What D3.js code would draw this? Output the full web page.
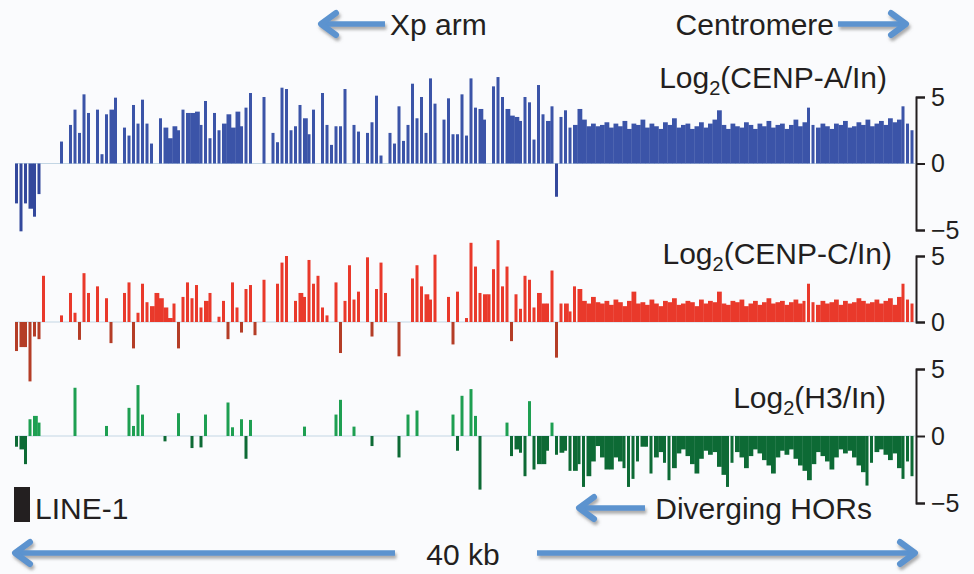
<!DOCTYPE html>
<html>
<head>
<meta charset="utf-8">
<script src="https://cdn.jsdelivr.net/npm/d3@7"></script>
<style>
  html, body { margin: 0; padding: 0; background: #fff; }
  svg text { font-family: "Liberation Sans", Arial, Helvetica, sans-serif; fill: #231f20; }
</style>
</head>
<body>
<div id="chart"></div>
<script>
(function () {

    // 40 kb window, 0.2 kb bins (200 bins per track), log2 ratios
    const regionKb = [0, 40];
    const binKb = 0.2;

    const cenpA = [
        -3.0, -5.1, -3.0, -3.4, -4.0, -2.3, 0, 0, 0, 0,
        1.65, 0, 2.9, 4.05, 2.3, 5.2, 3.8, 0, 4.05, 0.7,
        3.7, 4.05, 4.95, 0, 2.7, 2.1, 4.4, 3.0, 4.8, 3.0,
        1.5, 0, 3.4, 2.7, 1.9, 2.8, 2.5, 4.05, 3.8, 3.8,
        3.9, 2.9, 4.7, 1.9, 3.8, 2.5, 3.0, 3.7, 2.7, 3.9,
        2.8, 4.2, 5.3, 0, 0, 5.0, 0, 2.3, 1.6, 5.7,
        5.6, 2.5, 2.8, 4.4, 3.4, 2.2, 4.05, 0, 5.3, 2.9,
        1.4, 2.8, 2.8, 5.6, 0, 2.9, 2.4, 0, 2.3, 3.1,
        5.1, 0.6, 0, 2.3, 1.5, 4.3, 1.7, 2.9, 6.0, 3.4,
        5.0, 2.3, 6.4, 4.5, 0, 3.3, 4.9, 2.2, 2.2, 5.2,
        2.1, 6.4, 4.2, 4.1, 3.3, 0, 5.8, 6.5, 5.0, 4.1,
        3.6, 3.5, 3.2, 5.0, 4.6, 1.8, 5.9, 3.7, 3.2, 4.3,
        -2.5, 3.5, 4.0, 2.7, 2.9, 4.1, 3.3, 2.8, 3.0, 2.8,
        2.9, 3.1, 2.7, 3.0, 2.8, 3.2, 2.6, 3.0, 2.9, 3.3,
        2.7, 3.0, 2.8, 2.6, 3.1, 2.9, 3.4, 2.7, 2.9, 3.0,
        2.6, 2.8, 3.1, 2.7, 3.0, 3.3, 4.0, 2.9, 2.6, 3.0,
        2.8, 2.7, 3.1, 2.9, 2.6, 3.0, 2.8, 3.2, 2.7, 2.9,
        3.0, 2.6, 2.9, 3.3, 2.8, 3.1, 4.2, 2.9, 2.7, 3.0,
        2.8, 2.6, 3.0, 2.9, 3.2, 2.7, 2.8, 3.1, 2.9, 3.3,
        2.8, 3.0, 3.2, 2.9, 3.4, 3.1, 3.3, 4.3, 3.0, 2.5
    ];

    const cenpC = [
        -2.2, -1.9, -1.9, -4.5, -1.1, -1.3, 3.5, 0, 0, 0,
        0.5, 0, 2.2, 0.7, -1.35, 3.7, 2.2, 0, 2.7, 0,
        1.8, -1.6, 0, 0, 2.2, 3.0, -2.0, 0.7, 2.9, 1.5,
        1.2, 2.2, 1.8, 1.1, 0.3, 1.4, -2.0, 1.9, 3.0, 1.8,
        2.8, 1.1, 1.6, 2.2, 0, 0.4, 1.6, -1.3, 3.0, 1.1,
        -0.8, 2.5, 2.8, -1.0, 0, 3.2, 0, 0, 2.9, 4.5,
        5.0, 0, 1.6, 2.2, 1.9, 4.7, 2.9, 3.5, 1.1, 0.5,
        0, 3.0, -2.35, 1.6, 4.3, 1.7, 2.3, 0, 4.9, -1.1,
        2.5, 4.5, 2.2, 0, 0, -2.6, 0, 0, 3.3, 4.3,
        2.7, 2.1, 1.7, 5.1, 0, 0, 1.9, -1.7, 2.3, 0,
        0.3, 6.0, 4.2, 2.2, 2.1, 2.1, 4.0, 6.2, 2.7, 4.2,
        -1.45, 2.1, 1.0, 3.5, 3.2, 1.1, 2.2, 1.4, 1.4, 3.9,
        -2.7, 1.4, 1.4, 0.8, 2.7, 2.5, 1.6, 1.4, 1.9, 1.5,
        1.4, 1.6, 1.3, 1.7, 1.5, 1.2, 1.6, 2.3, 1.4, 1.5,
        1.3, 1.7, 1.4, 1.2, 1.6, 1.5, 1.8, 1.3, 1.4, 1.6,
        1.5, 1.2, 1.7, 1.4, 1.6, 1.5, 2.3, 1.4, 1.3, 1.6,
        1.5, 1.7, 1.2, 1.4, 1.6, 1.3, 1.5, 1.8, 1.4, 1.5,
        1.6, 1.3, 1.5, 1.7, 1.4, 1.6, 2.9, 1.5, 1.3, 1.6,
        1.4, 1.5, 1.7, 1.3, 1.6, 1.4, 1.5, 1.8, 1.6, 1.4,
        1.5, 1.7, 1.4, 1.6, 1.8, 1.3, 1.9, 2.9, 1.7, 1.4
    ];

    const h3 = [
        -0.8, -1.0, -2.1, 1.25, 1.5, 1.0, 0, 0, 0, 0,
        0, 0, 0, 3.6, 0, 0, 0, 0, 0, 0,
        0.75, 0, 0, 0, 0, 2.1, 0.75, 3.8, 1.6, 0,
        0, 0, 0, -0.4, 0, 0, 1.7, 0, 0, -0.9,
        0, -0.85, 1.6, 0, 0, 0, 0, 2.5, 0.65, 0,
        1.25, -1.7, 1.2, 0, 0, 0, 0, 0, 0, 0,
        0, 0, 0, 0, 0.7, 0, 0, 0, 0, 0,
        0, 1.6, 2.7, 0, 0, 0.7, 0, 0, 0, -0.75,
        0, 0, 0, 0, 0, -1.6, 0, 1.6, 0, 1.9,
        0, 0, 0, 0, 0, 0, 0, 1.6, -1.1, 3.0,
        0, 3.5, 1.5, -4.0, 0, 0, 0, 0, 0, 1.0,
        -1.5, -1.0, -1.25, -3.0, 2.6, -2.5, -2.1, -2.1, -1.1, 1.0,
        -1.4, -1.25, -1.1, -2.6, -2.6, -2.1, -3.8, -3.0, -1.9, -0.75,
        -1.6, -2.5, -2.5, -1.6, -1.9, -2.4, -3.8, -3.2, -1.9, -0.8,
        -0.8, -2.8, -1.6, -1.2, -2.0, -3.3, -2.4, -1.3, -1.0, -1.5,
        -2.1, -2.8, -1.7, -1.1, -1.4, -1.2, -2.3, -2.9, -3.8, -2.0,
        -1.2, -1.6, -2.4, -1.5, -1.0, -1.3, -1.8, -2.2, -2.8, -1.6,
        -1.1, -1.4, -1.0, -1.7, -2.2, -2.6, -3.3, -2.1, -1.2, -1.5,
        -1.9, -2.5, -1.6, -1.0, -1.3, -1.1, -1.6, -2.2, -2.7, -3.7,
        -2.0, -1.2, -1.0, -1.4, -1.8, -1.3, -2.4, -3.2, -1.9, -3.0
    ];

    const trackNames = ['CENP-A/In', 'CENP-C/In', 'H3/In'];
    const axisTicks = [[-5, 0, 5], [0, 5], [-5, 0, 5]];

    const width = 974;
    const height = 574;

    const svg = d3.select('#chart')
        .append('svg')
        .attr('width', width)
        .attr('height', height);

    svg.append('rect')
        .attr('width', width)
        .attr('height', height)
        .attr('fill', '#fafbfd');

    const defs = svg.append('defs');
    const shadow = defs.append('filter')
        .attr('id', 'shadow')
        .attr('x', '-20%').attr('y', '-50%')
        .attr('width', '140%').attr('height', '200%');
    shadow.append('feDropShadow')
        .attr('dx', 1.5).attr('dy', 3)
        .attr('stdDeviation', 1.5)
        .attr('flood-color', '#6b6b6b')
        .attr('flood-opacity', 0.55);

    const x = d3.scaleLinear().domain(regionKb).range([15, 915]);
    const axisX = 916;

    const tracks = [
        { values: cenpA, y: d3.scaleLinear().domain([-5, 5]).range([230, 97]),
          pos: '#3b54a8', neg: '#33489c', label: [887, 88] },
        { values: cenpC, y: d3.scaleLinear().domain([-5, 5]).range([388, 256]),
          pos: '#e9392b', neg: '#b43d27', label: [892, 264] },
        { values: h3, y: d3.scaleLinear().domain([-5, 5]).range([503, 369]),
          pos: '#1e9f52', neg: '#0d6a35', label: [886, 408] }
    ];

    const bw = x(binKb) - x(0);

    // a bin joins its neighbours into a solid fill only when they are similar
    function isSolid(vals, i) {
        const v = vals[i];
        const a = vals[i - 1] || 0;
        const b = vals[i + 1] || 0;
        return Math.sign(a) === Math.sign(v) && Math.sign(b) === Math.sign(v) &&
            Math.abs(a - v) < 1.2 && Math.abs(b - v) < 1.2;
    }

    tracks.forEach((t, k) => {
        const g = svg.append('g');

        // zero line
        g.append('line')
            .attr('x1', x(regionKb[0]))
            .attr('x2', x(regionKb[1]))
            .attr('y1', t.y(0))
            .attr('y2', t.y(0))
            .attr('stroke', '#c3d6e4')
            .attr('stroke-width', 1);

        g.selectAll('rect')
            .data(t.values.map((v, i) => ({ kb: i * binKb, v: v, solid: isSolid(t.values, i) }))
                .filter(d => d.v !== 0))
            .join('rect')
            .attr('x', d => x(d.kb))
            .attr('width', d => d.solid ? bw + 0.3 : bw - 1.5)
            .attr('y', d => Math.min(t.y(d.v), t.y(0)))
            .attr('height', d => Math.abs(t.y(d.v) - t.y(0)))
            .attr('fill', d => d.v > 0 ? t.pos : t.neg);

        // right axis (bracket style)
        const ticks = axisTicks[k];
        const ay = t.y.copy()
            .domain(d3.extent(ticks))
            .range([t.y(d3.min(ticks)), t.y(d3.max(ticks))]);

        const axis = svg.append('g')
            .attr('transform', `translate(${axisX},0)`)
            .call(d3.axisRight(ay)
                .tickValues(ticks)
                .tickFormat(d3.format('d'))
                .tickSize(9)
                .tickPadding(6));

        axis.select('.domain').attr('stroke', '#231f20').attr('stroke-width', 2);
        axis.selectAll('.tick line').attr('stroke', '#231f20').attr('stroke-width', 2);
        axis.selectAll('.tick text')
            .attr('font-size', 25)
            .attr('font-family', '"Liberation Sans", Arial, sans-serif')
            .attr('fill', '#231f20');

        // track label
        const lab = svg.append('text')
            .attr('x', t.label[0])
            .attr('y', t.label[1])
            .attr('text-anchor', 'end')
            .attr('font-size', 30);
        lab.append('tspan').text('Log');
        lab.append('tspan').attr('font-size', 20).attr('dy', 7).text('2');
        lab.append('tspan').attr('dy', -7).text('(' + trackNames[k] + ')');
    });

    // annotation arrows
    function arrow(x1, x2, y) {
        const dir = x2 > x1 ? 1 : -1;
        const g = svg.append('g').attr('filter', 'url(#shadow)');
        g.append('line')
            .attr('x1', x1).attr('x2', x2 - dir * 3)
            .attr('y1', y).attr('y2', y)
            .attr('stroke', '#5b93cf')
            .attr('stroke-width', 5.5);
        g.append('path')
            .attr('d', `M${x2 - dir * 15},${y - 11}L${x2},${y}L${x2 - dir * 15},${y + 11}`)
            .attr('fill', 'none')
            .attr('stroke', '#5b93cf')
            .attr('stroke-width', 6)
            .attr('stroke-linecap', 'round')
            .attr('stroke-linejoin', 'round');
    }

    arrow(385, 321, 24);
    arrow(838, 906, 24);
    arrow(645, 579, 508);
    arrow(395, 15, 553);
    arrow(537, 915, 553);

    const notes = [
        { text: 'Xp arm', x: 390, y: 35, anchor: 'start' },
        { text: 'Centromere', x: 834, y: 35, anchor: 'end' },
        { text: 'Diverging HORs', x: 872, y: 519, anchor: 'end' },
        { text: '40 kb', x: 463, y: 565, anchor: 'middle' },
        { text: 'LINE-1', x: 35, y: 519, anchor: 'start' }
    ];

    svg.selectAll('text.note')
        .data(notes)
        .join('text')
        .attr('class', 'note')
        .attr('x', d => d.x)
        .attr('y', d => d.y)
        .attr('text-anchor', d => d.anchor)
        .attr('font-size', 30)
        .text(d => d.text);

    // LINE-1 element block
    svg.append('rect')
        .attr('x', 14)
        .attr('y', 487)
        .attr('width', 16)
        .attr('height', 35)
        .attr('fill', '#231f20');

})();
</script>
</body>
</html>
